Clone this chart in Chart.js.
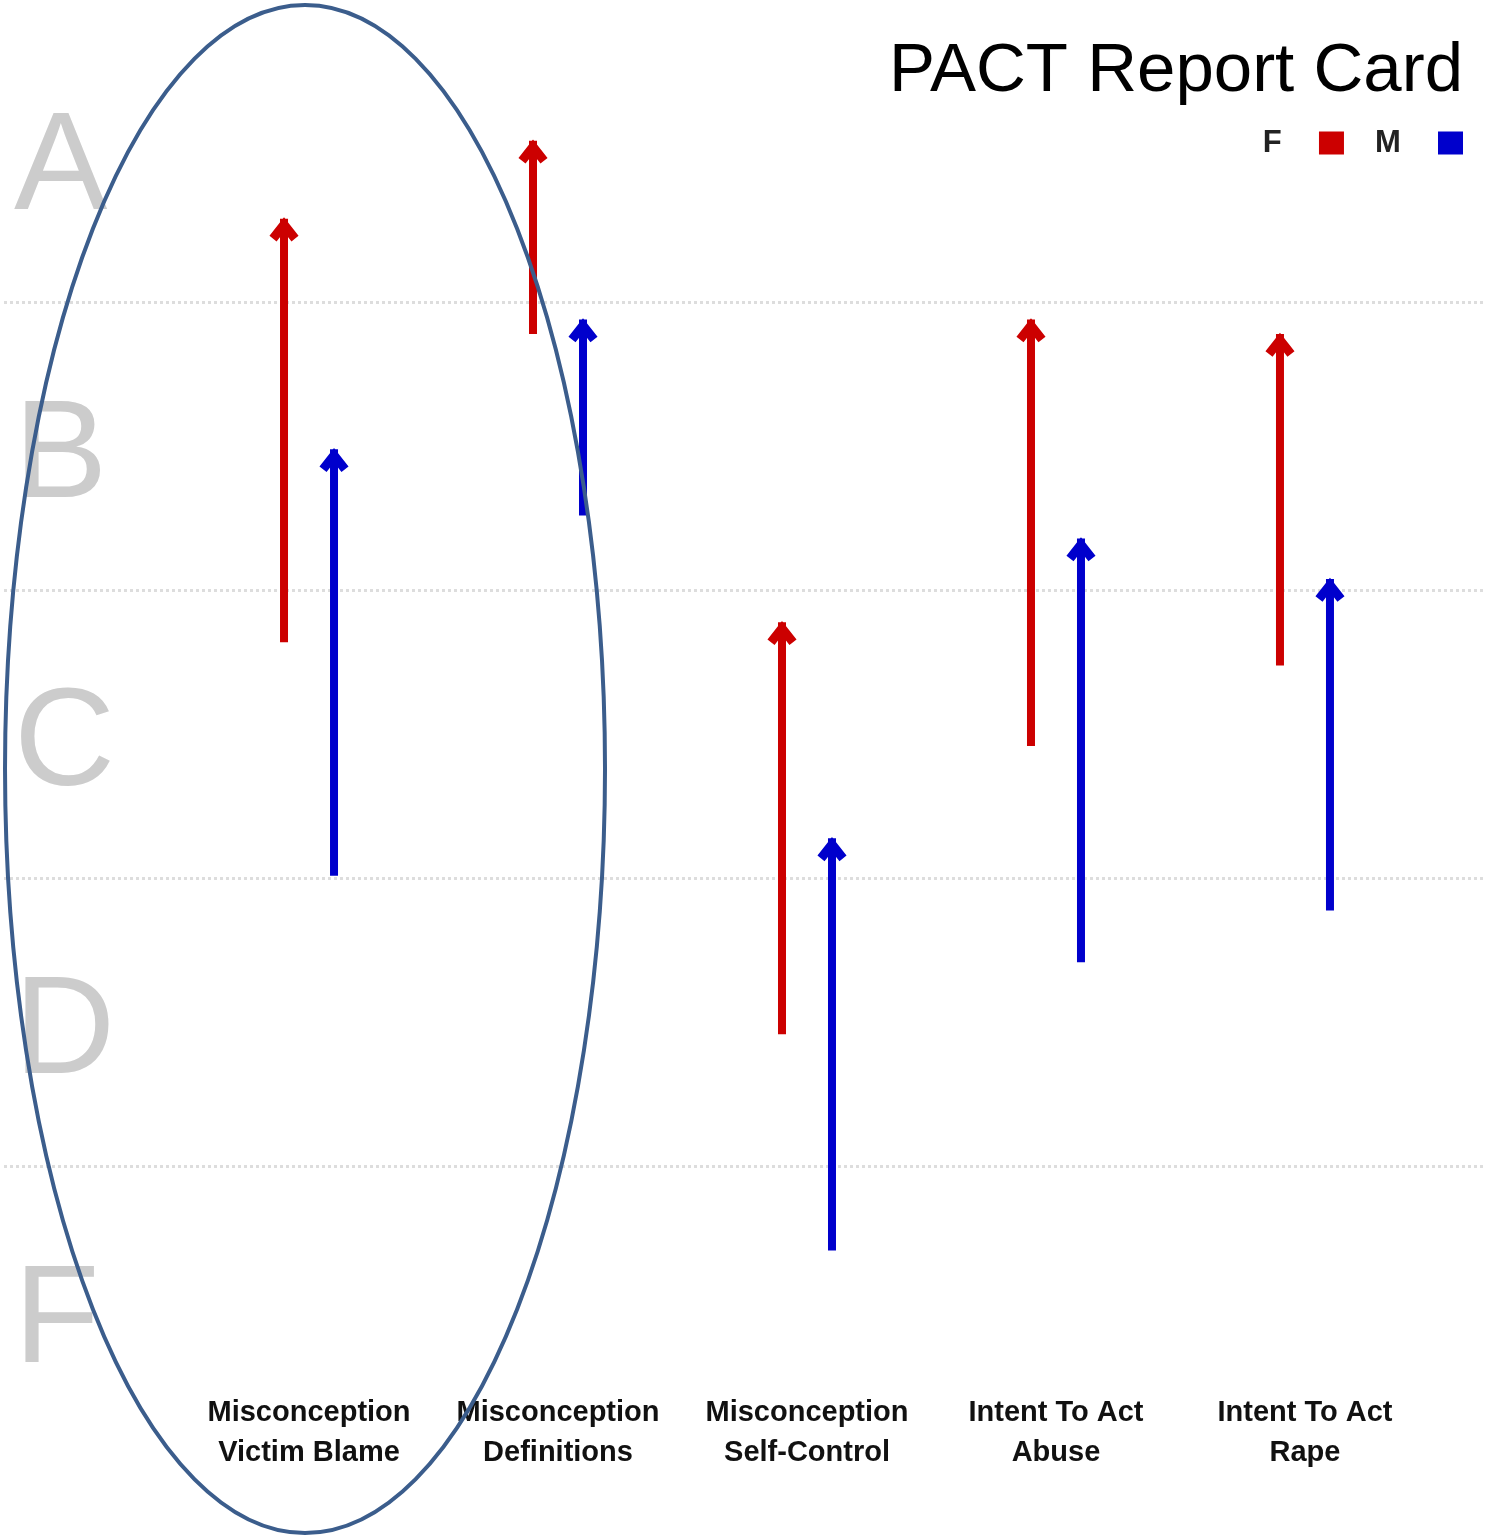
<!DOCTYPE html>
<html>
<head>
<meta charset="utf-8">
<title>PACT Report Card</title>
<script src="https://cdn.jsdelivr.net/npm/chart.js@4.4.0/dist/chart.umd.min.js"></script>
<style>
  html, body { margin: 0; padding: 0; background: #ffffff; }
  #wrap { width: 1485px; height: 1536px; }
</style>
</head>
<body>
<div id="wrap"><canvas id="reportChart"></canvas></div>
<script>
// categories on the x axis (two-line labels)
const categories = [
    ['Misconception', 'Victim Blame'],
    ['Misconception', 'Definitions'],
    ['Misconception', 'Self-Control'],
    ['Intent To Act', 'Abuse'],
    ['Intent To Act', 'Rape']
];
// grade letters, bottom to top (F = 0..1, A = 4..5)
const grades = ['F', 'D', 'C', 'B', 'A'];
const gradeTicks = [0.5, 1.5, 2.5, 3.5, 4.5];
const gradeBounds = [1, 2, 3, 4];

// arrows: start (pre) -> end (post) on the grade scale
const femaleStart = [2.82, 3.89, 1.46, 2.46, 2.74];
const femaleEnd   = [4.29, 4.56, 2.89, 3.94, 3.89];
const maleStart   = [2.01, 3.26, 0.71, 1.71, 1.89];
const maleEnd     = [3.49, 3.94, 2.14, 3.18, 3.04];

const RED = '#cc0000';
const BLUE = '#0000cc';

document.addEventListener('DOMContentLoaded', function() {
    const ctx = document.getElementById('reportChart').getContext('2d');

    // open arrow heads on top of each floating bar
    const arrowHeads = {
        id: 'arrowHeads',
        afterDatasetsDraw(chart) {
            const c = chart.ctx;
            chart.data.datasets.forEach((ds, i) => {
                const meta = chart.getDatasetMeta(i);
                if (meta.hidden) return;
                meta.data.forEach(bar => {
                    c.save();
                    c.strokeStyle = ds.backgroundColor;
                    c.lineWidth = 9;
                    c.lineJoin = 'miter';
                    c.beginPath();
                    c.moveTo(bar.x - 11, bar.y + 20);
                    c.lineTo(bar.x, bar.y + 6);
                    c.lineTo(bar.x + 11, bar.y + 20);
                    c.stroke();
                    c.restore();
                });
            });
        }
    };

    // hand drawn ring around the first category
    const ring = {
        id: 'ring',
        afterDraw(chart) {
            const c = chart.ctx;
            const cx = chart.scales.x.getPixelForValue(0) - 4;
            c.save();
            c.strokeStyle = '#3b5d8c';
            c.lineWidth = 4;
            c.beginPath();
            c.ellipse(cx, chart.height / 2 + 1, 300, 764, 0, 0, Math.PI * 2);
            c.stroke();
            c.restore();
        }
    };

    // pull legend/title in from the right edge a bit
    const inset = {
        id: 'inset',
        afterLayout(chart) {
            [chart.legend, chart.titleBlock].forEach(b => {
                b.width -= 22;
                b.right -= 22;
            });
        }
    };

    // legend text sits left of its box; spaces keep the gaps of the original
    const legendText = {
        F: 'F\u2002\u2009',
        M: '\u2002\u2002M\u2002\u2009'
    };

    const data = {
        datasets: [{
            label: 'F',
            data: categories.map((c, i) => ({ x: i, y: [femaleStart[i], femaleEnd[i]] })),
            backgroundColor: RED,
            borderWidth: 0,
            borderSkipped: false,
            clip: false
        }, {
            label: 'M',
            data: categories.map((c, i) => ({ x: i, y: [maleStart[i], maleEnd[i]] })),
            backgroundColor: BLUE,
            borderWidth: 0,
            borderSkipped: false,
            clip: false
        }]
    };

    const options = {
        responsive: true,
        maintainAspectRatio: false,
        animation: false,
        categoryPercentage: 100 / 249,
        barPercentage: 0.16,
        layout: { padding: { top: 0, left: 4, right: 0, bottom: 56 } },
        plugins: {
            tooltip: { enabled: false },
            title: {
                display: true,
                text: 'PACT Report Card',
                align: 'end',
                color: '#000000',
                font: { family: '"Liberation Sans", Arial, sans-serif', size: 69, weight: 'normal', lineHeight: 1 },
                padding: { top: 37.5, bottom: 21 }
            },
            legend: {
                position: 'top',
                align: 'start',
                rtl: true,
                textDirection: 'ltr',
                reverse: true,
                labels: {
                    boxWidth: 25,
                    boxHeight: 23,
                    padding: 0,
                    color: '#222222',
                    font: { family: '"Liberation Sans", Arial, sans-serif', size: 31, weight: 'bold' },
                    generateLabels(chart) {
                        const items = Chart.defaults.plugins.legend.labels.generateLabels(chart);
                        items.forEach(it => { it.text = legendText[it.text] || it.text; });
                        return items;
                    }
                }
            }
        },
        scales: {
            x: {
                type: 'linear',
                min: -1.225,
                max: 4.723,
                offset: false,
                grid: { display: false, drawTicks: false },
                border: { display: false },
                afterBuildTicks: scale => {
                    scale.ticks = categories.map((c, i) => ({ value: i }));
                },
                ticks: {
                    autoSkip: false,
                    maxRotation: 0,
                    padding: 7,
                    color: '#111111',
                    font: { family: '"Liberation Sans", Arial, sans-serif', size: 29, weight: 'bold', lineHeight: 40 / 29 },
                    callback: v => categories[v]
                }
            },
            y: {
                min: 0.24,
                max: 4.464,
                position: 'left',
                grid: { display: false, drawTicks: false },
                border: { display: false },
                afterBuildTicks: scale => {
                    scale.ticks = gradeTicks.map(v => ({ value: v }));
                },
                afterFit: scale => { scale.width = 0; },
                ticks: {
                    mirror: true,
                    autoSkip: false,
                    padding: 10,
                    labelOffset: 12,
                    color: '#cccccc',
                    font: { family: '"Liberation Sans", Arial, sans-serif', size: 140, lineHeight: 0.05 },
                    callback: v => grades[Math.floor(v)]
                }
            },
            grid: {
                min: 0.24,
                max: 4.464,
                position: 'left',
                grid: {
                    color: '#dddddd',
                    lineWidth: 3,
                    drawTicks: false
                },
                border: { display: false, dash: [3, 3] },
                afterBuildTicks: scale => {
                    scale.ticks = gradeBounds.map(v => ({ value: v }));
                },
                afterFit: scale => { scale.width = 0; },
                ticks: { display: false }
            }
        }
    };

    const reportChart = new Chart(ctx, {
        type: 'bar',
        data: data,
        options: options,
        plugins: [inset, arrowHeads, ring]
    });
});
</script>
</body>
</html>
